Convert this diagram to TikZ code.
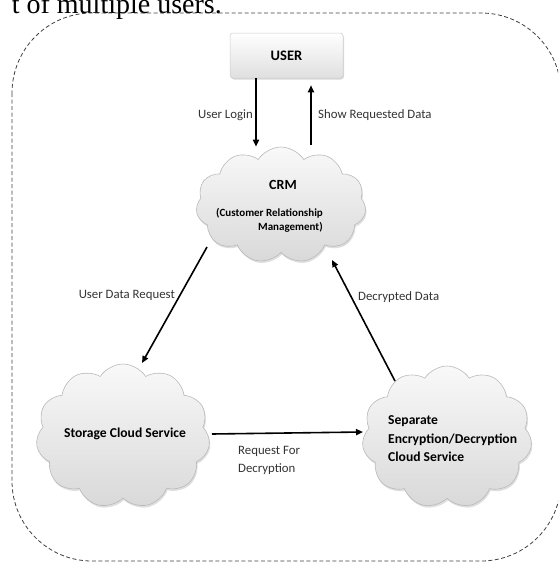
\documentclass[tikz,border=0pt]{standalone}
\usepackage{fontspec}
\setmainfont{Carlito}
\newfontfamily\paperfont{Liberation Serif}
\usetikzlibrary{shapes.symbols,shadows,arrows.meta}

\tikzset{
  cloudbox/.style={cloud, cloud puffs=11, cloud puff arc=115, cloud ignores aspect,
    draw=gray!55, line width=0.6pt, top color=gray!5, bottom color=gray!30,
    drop shadow={shadow xshift=1pt, shadow yshift=-2pt, opacity=0.25}, inner sep=0pt},
  userbox/.style={rectangle, rounded corners=3pt, draw=gray!40, line width=0.5pt,
    top color=white, bottom color=gray!25, minimum width=113pt, minimum height=45pt,
    drop shadow={shadow xshift=1pt, shadow yshift=-1.5pt, opacity=0.3},
    font=\fontsize{14.5}{16}\selectfont\bfseries},
  title/.style={font=\fontsize{13.6}{18.5}\selectfont\bfseries, inner sep=0pt},
  flowlabel/.style={font=\fontsize{12.8}{18}\selectfont, text=black!80, inner sep=0pt},
  arr/.style={line width=1.6pt, -{Triangle[length=7pt, width=6pt]}},
  frame/.style={draw=black!75, line width=0.8pt, dash pattern=on 4pt off 2.5pt, rounded corners=80pt}
}

\begin{document}
\begin{tikzpicture}[x=1pt, y=-1pt]
\useasboundingbox (0,0) rectangle (558,563);
\clip (0,0) rectangle (558,563);

% line of surrounding text, cut by the top edge
\node[anchor=base east, inner sep=0pt, font=\paperfont\fontsize{28}{30}\selectfont] (caption) at (222,13) {t of multiple users.};

% dashed system boundary
\draw[frame] (12,13) rectangle (561,561);

% actors and services
\node[userbox] (user) at (286.5,55.5) {USER};
\node[cloudbox, minimum width=170pt, minimum height=116pt] (crm) at (281,205) {};
\node[cloudbox, minimum width=174pt, minimum height=144pt] (storage) at (123,436) {};
\node[cloudbox, minimum width=170pt, minimum height=142pt] (crypt) at (447,437) {};

% texts inside the clouds
\node[font=\fontsize{14}{16}\selectfont\bfseries, inner sep=0pt] (crmname) at (283,185) {CRM};
\node[font=\fontsize{11}{14}\selectfont\bfseries, inner sep=0pt, align=left, anchor=north west] (crmlong) at (216,208)
  {(Customer Relationship\\\hspace*{42pt}Management)};
\node[title] (storagename) at (125,434) {Storage Cloud Service};
\node[title, align=left, anchor=west] (cryptname) at (388,439)
  {Separate\\Encryption/Decryption\\Cloud Service};

% connectors
\draw[arr] ([xshift=-30.5pt]user.south) -- ([xshift=-30.5pt]user.south |- crm.north);
\draw[arr] ([shift={(30,-60)}]crm.center) -- ([shift={(24.5,7)}]user.south);
\draw[arr] ([shift={(-74,42)}]crm.center) -- ([shift={(19,-73)}]storage.center);
\draw[arr] ([shift={(-52,-56)}]crypt.center) -- ([shift={(51,55)}]crm.center);
\draw[arr] ([shift={(89,-2)}]storage.center) -- ([shift={(-84,-5)}]crypt.center);

% connector labels
\node[flowlabel, anchor=east] (lbllogin) at (253,115) {User Login};
\node[flowlabel, anchor=west] (lblshow) at (318,115) {Show Requested Data};
\node[flowlabel, anchor=east] (lblreq) at (175,295) {User Data Request};
\node[flowlabel, anchor=west] (lbldec) at (358,297) {Decrypted Data};
\node[flowlabel, anchor=north west, align=left] (lblfor) at (238,446) {Request For\\Decryption};
\end{tikzpicture}
\end{document}
